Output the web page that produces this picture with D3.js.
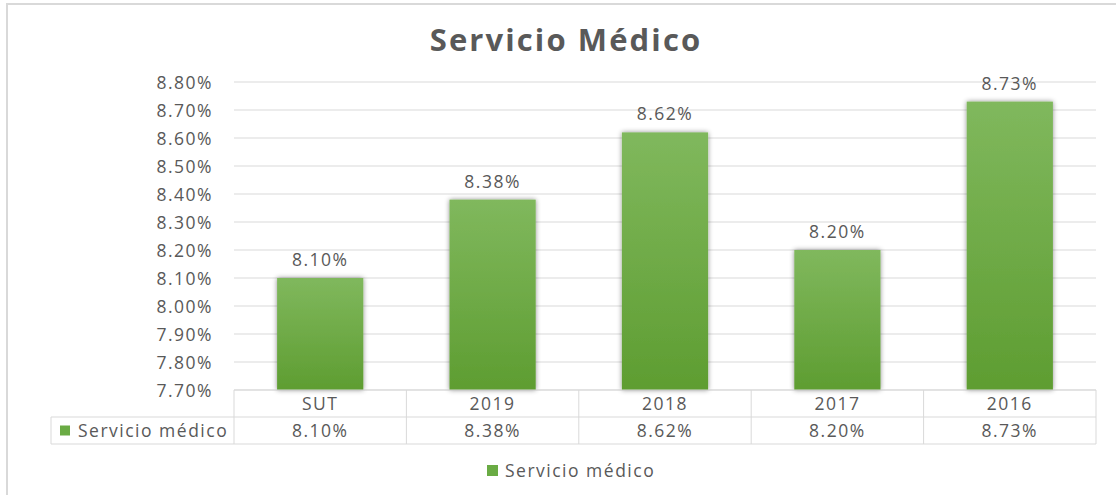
<!DOCTYPE html>
<html><head><meta charset="utf-8">
<script src="https://cdn.jsdelivr.net/npm/d3@7"></script>
<style>
html,body{margin:0;padding:0;background:#fff;}
svg text{font-family:"Open Sans",sans-serif;fill:#595959;}
</style></head>
<body>
<svg id="chart" width="1116" height="495"></svg>
<script>
const categories = ["SUT","2019","2018","2017","2016"];
const values = [8.10, 8.38, 8.62, 8.20, 8.73];
const seriesName = "Servicio médico";
const yTicks = [7.70,7.80,7.90,8.00,8.10,8.20,8.30,8.40,8.50,8.60,8.70,8.80];
const title = "Servicio Médico";

(function(){
const svg = d3.select("#chart");
const pLeft = 234, pRight = 1096, pTop = 82, pBottom = 390;
const rowH = 27;
const FS = "17.5px", LS = "1.5px";

const defs = svg.append("defs");
const grad = defs.append("linearGradient").attr("id","bg").attr("x1",0).attr("y1",0).attr("x2",0).attr("y2",1);
grad.append("stop").attr("offset","0%").attr("stop-color","#80b85d");
grad.append("stop").attr("offset","100%").attr("stop-color","#5e9d31");
const f = defs.append("filter").attr("id","sh").attr("x","-20%").attr("y","-20%").attr("width","140%").attr("height","140%");
f.append("feDropShadow").attr("dx",0).attr("dy",0).attr("stdDeviation",2.5).attr("flood-color","#000").attr("flood-opacity",0.45);

svg.append("rect").attr("x",7).attr("y",4).attr("width",1120).attr("height",510)
  .attr("fill","none").attr("stroke","#d9d9d9").attr("stroke-width",2);

svg.append("text").attr("x",566).attr("y",51).attr("text-anchor","middle")
  .style("font-size","31px").style("font-weight","bold").style("letter-spacing","2.1px").text(title);

const y = d3.scaleLinear().domain([7.70, 8.80]).range([pBottom, pTop]);
const x = d3.scaleBand().domain(categories).range([pLeft, pRight]).paddingInner(0.5).paddingOuter(0.25);
const xb = d3.scaleBand().domain(categories).range([pLeft, pRight]);

svg.append("g").selectAll("line").data(yTicks).join("line")
  .attr("x1",pLeft).attr("x2",pRight).attr("y1",d=>y(d)).attr("y2",d=>y(d))
  .attr("stroke","#d9d9d9").attr("stroke-width",1);

const yAxis = d3.axisLeft(y).tickValues(yTicks).tickFormat(d=>d3.format(".2f")(d)+"%").tickSize(0).tickPadding(21);
const yg = svg.append("g").attr("transform",`translate(${pLeft},0)`).call(yAxis);
yg.select(".domain").remove();
yg.selectAll("text").style("font-size",FS).style("letter-spacing",LS).attr("fill","#595959").attr("dy","0.35em");

svg.append("g").selectAll("rect").data(values).join("rect")
  .attr("x",(d,i)=>x(categories[i])).attr("width",x.bandwidth())
  .attr("y",d=>y(d)).attr("height",d=>pBottom-y(d))
  .attr("fill","url(#bg)").attr("filter","url(#sh)");

svg.append("g").selectAll("text").data(values).join("text")
  .attr("x",(d,i)=>x(categories[i])+x.bandwidth()/2).attr("y",d=>y(d)-12)
  .attr("text-anchor","middle").style("font-size",FS).style("letter-spacing",LS)
  .text(d=>d3.format(".2f")(d)+"%");

const tg = svg.append("g");
const tableStroke = "#d9d9d9";
tg.append("line").attr("x1",pLeft).attr("x2",pRight).attr("y1",pBottom).attr("y2",pBottom).attr("stroke",tableStroke);
tg.append("line").attr("x1",51).attr("x2",pRight).attr("y1",pBottom+rowH).attr("y2",pBottom+rowH).attr("stroke",tableStroke);
tg.append("line").attr("x1",51).attr("x2",pRight).attr("y1",pBottom+2*rowH).attr("y2",pBottom+2*rowH).attr("stroke",tableStroke);
tg.append("line").attr("x1",51).attr("x2",51).attr("y1",pBottom+rowH).attr("y2",pBottom+2*rowH).attr("stroke",tableStroke);
const vx = categories.map(c=>xb(c)).concat([pRight]);
tg.selectAll(".v").data(vx).join("line").attr("class","v")
  .attr("x1",d=>d).attr("x2",d=>d).attr("y1",pBottom).attr("y2",pBottom+2*rowH).attr("stroke",tableStroke);
tg.selectAll(".cat").data(categories).join("text").attr("class","cat")
  .attr("x",d=>xb(d)+xb.bandwidth()/2).attr("y",pBottom+rowH/2).attr("dy","0.35em")
  .attr("text-anchor","middle").style("font-size",FS).style("letter-spacing",LS).text(d=>d);
tg.selectAll(".val").data(values).join("text").attr("class","val")
  .attr("x",(d,i)=>xb(categories[i])+xb.bandwidth()/2).attr("y",pBottom+rowH*1.5).attr("dy","0.35em")
  .attr("text-anchor","middle").style("font-size",FS).style("letter-spacing",LS).text(d=>d3.format(".2f")(d)+"%");
tg.append("rect").attr("x",60).attr("y",pBottom+rowH*1.5-5).attr("width",10).attr("height",10).attr("fill","#6aab44");
tg.append("text").attr("x",78).attr("y",pBottom+rowH*1.5).attr("dy","0.35em")
  .style("font-size",FS).style("letter-spacing",LS).text(seriesName);

const lg = svg.append("g");
lg.append("rect").attr("x",487).attr("y",465).attr("width",11).attr("height",11).attr("fill","#6aab44");
lg.append("text").attr("x",505).attr("y",470.5).attr("dy","0.35em")
  .style("font-size",FS).style("letter-spacing",LS).text(seriesName);
})();
</script>
</body></html>
